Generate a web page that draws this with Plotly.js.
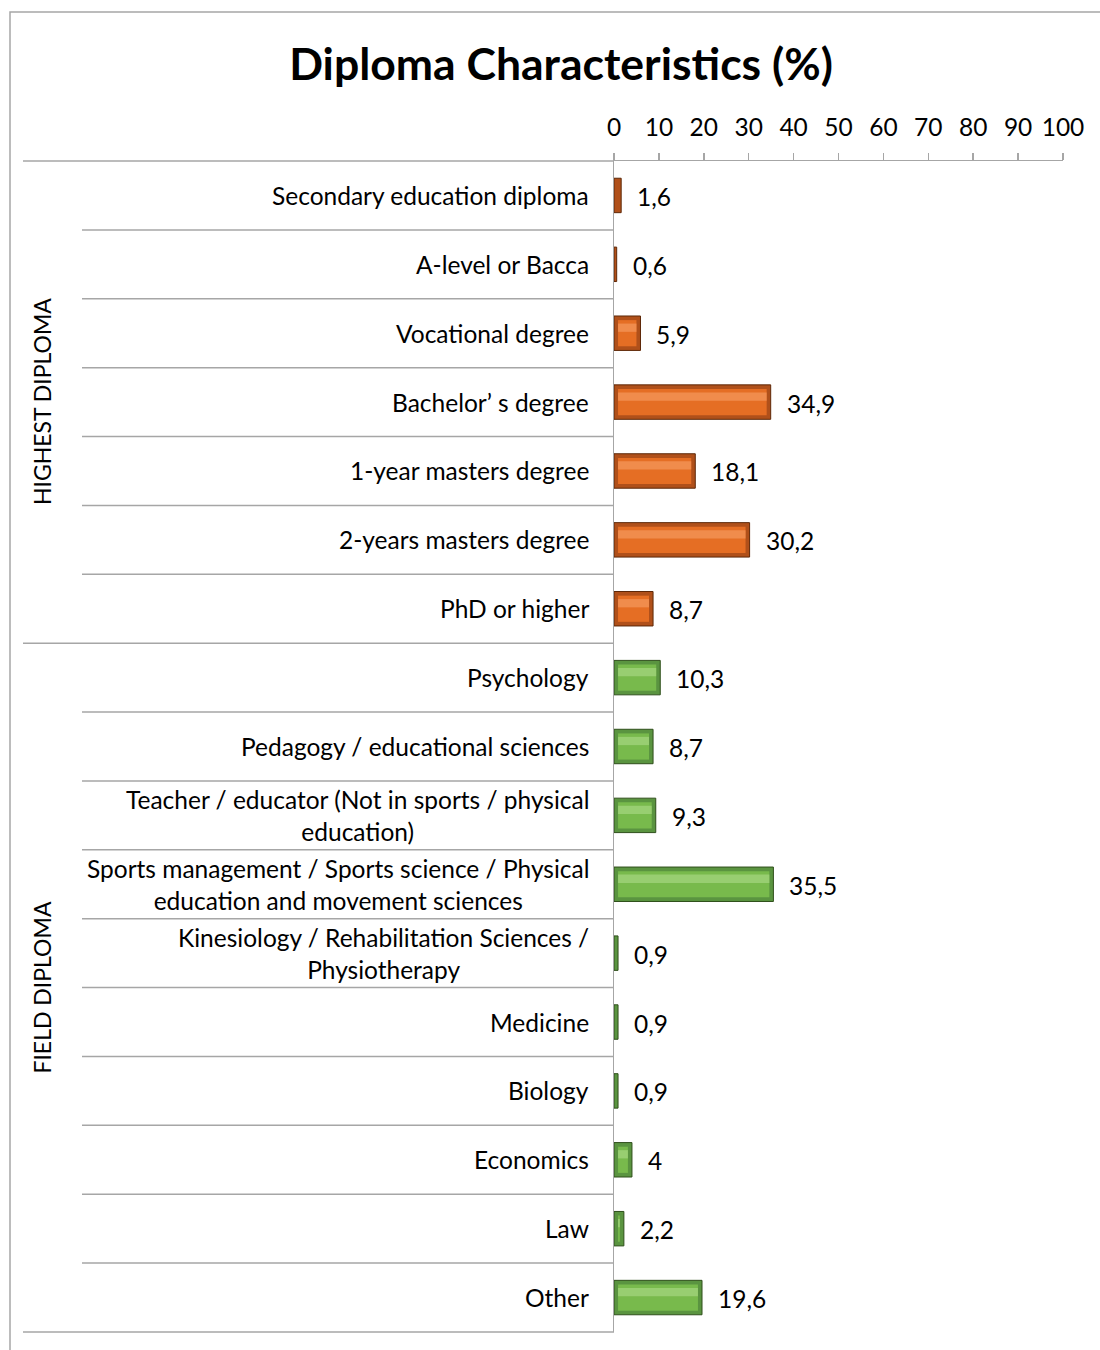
<!DOCTYPE html>
<html>
<head>
<meta charset="utf-8">
<script src="https://cdn.plot.ly/plotly-3.0.1.min.js"></script>
<style>
  html, body { margin: 0; padding: 0; background: #fff; }
  #chart { width: 1100px; height: 1350px; }
</style>
</head>
<body>
<div id="chart"></div>
<script>
// Highest diploma obtained
const highestCats = [
  'Secondary education diploma',
  'A-level or Bacca',
  'Vocational degree',
  'Bachelor’ s degree',
  '1-year masters degree',
  '2-years masters degree',
  'PhD or higher'
];
const highestVals = [1.6, 0.6, 5.9, 34.9, 18.1, 30.2, 8.7];

// Field of the diploma
const fieldCats = [
  'Psychology',
  'Pedagogy / educational sciences',
  'Teacher / educator (Not in sports / physical<br>education)',
  'Sports management / Sports science / Physical<br>education and movement sciences',
  'Kinesiology / Rehabilitation Sciences /<br>Physiotherapy',
  'Medicine',
  'Biology',
  'Economics',
  'Law',
  'Other'
];
const fieldVals = [10.3, 8.7, 9.3, 35.5, 0.9, 0.9, 0.9, 4, 2.2, 19.6];

const groupLabels = ['HIGHEST DIPLOMA', 'FIELD DIPLOMA'];
const xTicks = [0, 10, 20, 30, 40, 50, 60, 70, 80, 90, 100];

// ---- page geometry ----
const W = 1100, H = 1350;
const M = { l: 614, r: 37, t: 161, b: 18 };
const PW = W - M.l - M.r, PH = H - M.t - M.b;
const px = p => (p - M.l) / PW;            // pixel x -> paper x
const py = p => (H - M.b - p) / PH;        // pixel y -> paper y

const FONT = 'Lato, "Open Sans", sans-serif';
const LABEL_SIZE = 24.5;
const allCats = highestCats.concat(fieldCats);
const nCats = allCats.length;
const fmt = v => String(v).replace('.', ',');

const palettes = [
  { edge: '#B0501A', line: '#5E2808', body: '#E56E24', light: '#F39457' },
  { edge: '#5A9440', line: '#2F4F1B', body: '#78BA4C', light: '#A0D37B' }
];

// bevelled bar: dark frame, inset body, highlight stripe
const END = 0.9; // end bevel, in axis units
function bevelTraces(cats, vals, pal) {
  const inner = vals.map(v => Math.max(v - 2 * END, 0));
  const start = vals.map(() => END);
  return [
    { type: 'bar', orientation: 'h', y: cats, x: vals, width: 0.5,
      marker: { color: pal.edge, line: { color: pal.line, width: 1 } },
      hoverinfo: 'skip', opacity: 1, showlegend: false },
    { type: 'bar', orientation: 'h', y: cats, x: inner, base: start, width: 0.38,
      marker: { color: pal.body, line: { width: 0 } },
      hoverinfo: 'skip', opacity: 1, showlegend: false },
    { type: 'bar', orientation: 'h', y: cats, x: inner, base: start, width: 0.12, offset: -0.14,
      marker: { color: pal.light, line: { width: 0 } },
      hoverinfo: 'skip', opacity: 0.8, showlegend: false }
  ];
}

const data = [].concat(
  bevelTraces(highestCats, highestVals, palettes[0]),
  bevelTraces(fieldCats, fieldVals, palettes[1])
);

const annotations = [];
// category labels (centred lines, right-aligned block)
allCats.forEach(c => {
  annotations.push({
    xref: 'paper', x: px(591), xanchor: 'right',
    yref: 'y', y: c, yanchor: 'middle',
    text: c, align: 'center', showarrow: false,
    font: { family: FONT, size: LABEL_SIZE, color: '#000' }
  });
});
// value labels
[[highestCats, highestVals], [fieldCats, fieldVals]].forEach(([cats, vals]) => {
  cats.forEach((c, i) => {
    annotations.push({
      xref: 'x', x: vals[i], xanchor: 'left', xshift: 14,
      yref: 'y', y: c, yanchor: 'middle', yshift: -1,
      text: fmt(vals[i]), showarrow: false,
      font: { family: FONT, size: LABEL_SIZE, color: '#000' }
    });
  });
});
// group labels
const groupSizes = [highestCats.length, fieldCats.length];
let acc = 0;
groupLabels.forEach((g, k) => {
  const mid = acc + groupSizes[k] / 2;
  annotations.push({
    xref: 'paper', x: px(42), xanchor: 'center',
    yref: 'paper', y: 1 - mid / nCats, yanchor: 'middle',
    text: g, textangle: -90, showarrow: false,
    font: { family: FONT, size: 23, color: '#000' }
  });
  acc += groupSizes[k];
});

const GRAY = '#A6A6A6';
const shapes = [];
// category separators
for (let k = 0; k <= nCats; k++) {
  const isGroupEdge = (k === 0 || k === highestCats.length || k === nCats);
  shapes.push({
    type: 'line', xref: 'paper', yref: 'paper',
    x0: px(isGroupEdge ? 23 : 82), x1: 0,
    y0: 1 - k / nCats, y1: 1 - k / nCats,
    line: { color: GRAY, width: 1.5 }
  });
}
// chart frame
shapes.push({
  type: 'rect', xref: 'paper', yref: 'paper',
  x0: px(10), x1: px(1112), y0: py(1362), y1: py(12),
  line: { color: GRAY, width: 1.5 }, fillcolor: 'rgba(0,0,0,0)'
});

const layout = {
  width: W, height: H,
  margin: M,
  paper_bgcolor: '#fff', plot_bgcolor: '#fff',
  barmode: 'overlay',
  showlegend: false,
  title: {
    text: '<b>Diploma Characteristics (%)</b>',
    x: 561 / W, xanchor: 'center', xref: 'container',
    y: 1 - 64 / H, yanchor: 'middle', yref: 'container',
    font: { family: FONT, size: 44.5, color: '#000' }
  },
  xaxis: {
    side: 'top', range: [0, 100], tickvals: xTicks, ticktext: xTicks.map(String),
    ticks: 'outside', ticklen: 7, tickcolor: GRAY, tickwidth: 1.5,
    showline: true, linecolor: GRAY, linewidth: 1.5,
    showgrid: false, zeroline: false, ticklabelstandoff: 7,
    tickfont: { family: FONT, size: 24.5, color: '#000' }, fixedrange: true
  },
  yaxis: {
    type: 'category', categoryorder: 'array', categoryarray: allCats,
    autorange: 'reversed', range: [nCats - 0.5, -0.5],
    showticklabels: false, ticks: '',
    showline: true, linecolor: GRAY, linewidth: 1.5,
    showgrid: false, zeroline: false, fixedrange: true
  },
  annotations: annotations,
  shapes: shapes
};

Plotly.newPlot('chart', data, layout, { displayModeBar: false, staticPlot: true });
</script>
</body>
</html>
